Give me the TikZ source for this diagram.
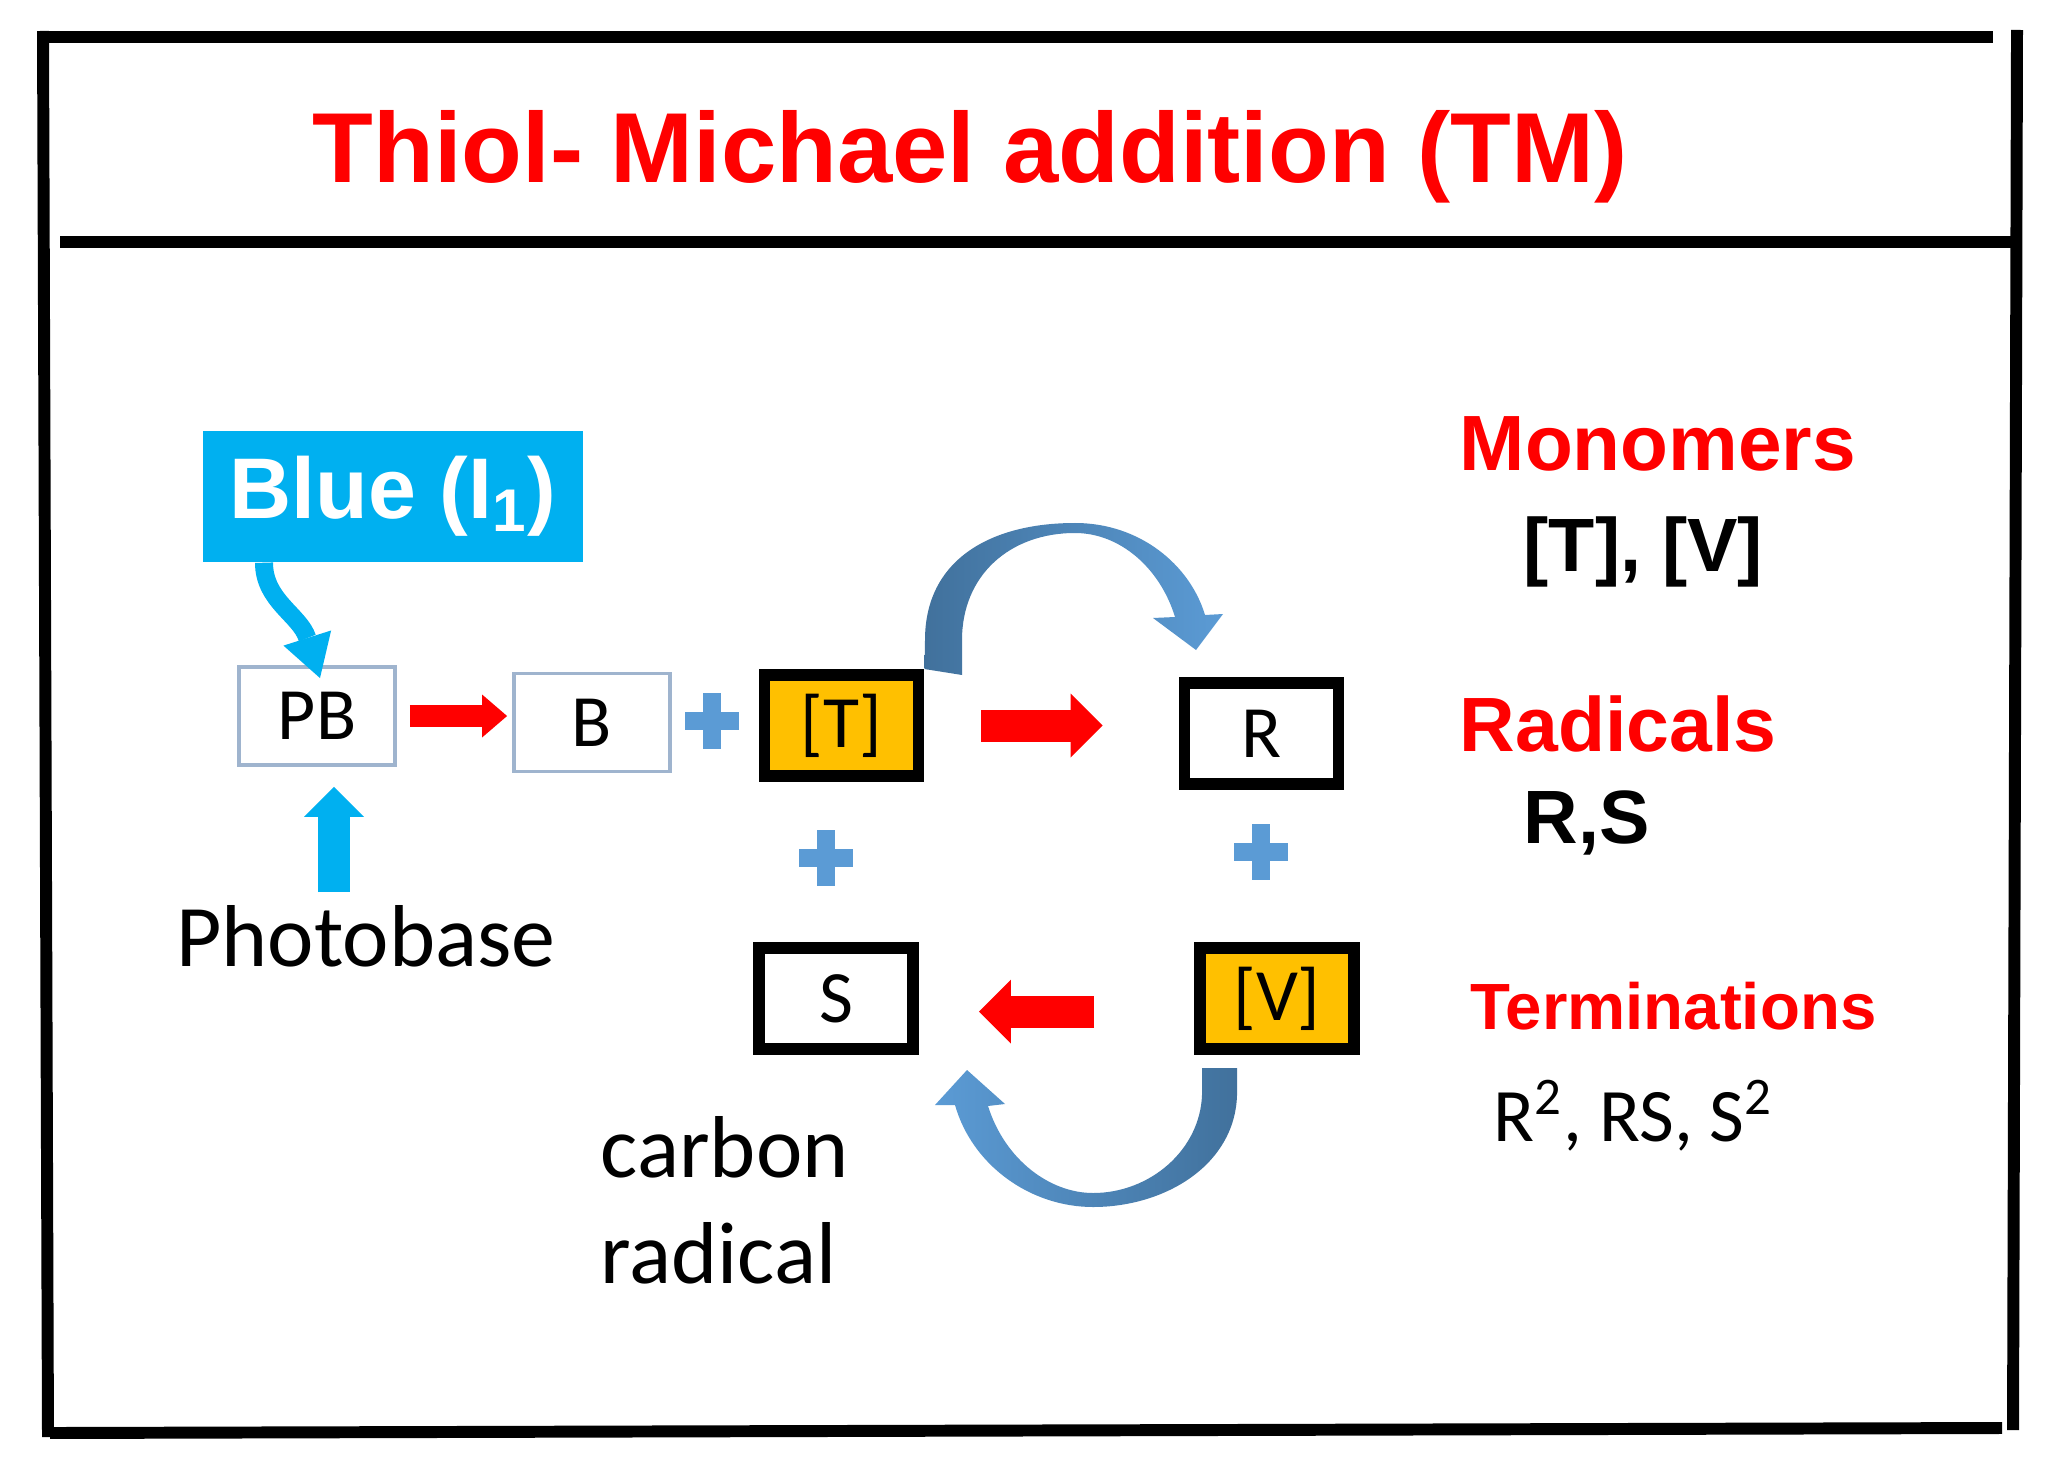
\documentclass[tikz,border=0pt]{standalone}
\usepackage{fontspec}
\setmainfont{Carlito}
\newfontfamily\arialfont{Liberation Sans}
\usetikzlibrary{arrows.meta}

\definecolor{titlered}{HTML}{FF0000}
\definecolor{infoblue}{HTML}{00B0F0}
\definecolor{monoyellow}{HTML}{FFC000}
\definecolor{plusblue}{HTML}{5B9BD5}
\definecolor{arcdark}{HTML}{41719C}
\definecolor{arclight}{HTML}{5B9BD5}
\definecolor{pbline}{HTML}{9FB4CE}

\tikzset{
  frame/.style={line width=3.4pt},
  thinbox/.style={draw=pbline, line width=1.1pt, minimum width=15.6mm, minimum height=9.8mm, inner sep=0pt, font=\fontsize{21}{25}\selectfont},
  thickbox/.style={draw=black, line width=3.4pt, minimum width=15.4mm, minimum height=10.1mm, inner sep=0pt, font=\fontsize{21}{25}\selectfont},
  monobox/.style={thickbox, fill=monoyellow},
  redarrow/.style={draw=titlered, line width=3.2mm, -{Triangle[width=6.4mm, length=3.2mm, line width=0pt]}},
  smallred/.style={redarrow, line width=2.2mm, -{Triangle[width=4.3mm, length=2.5mm, line width=0pt]}},
  bluearrow/.style={draw=infoblue, line width=3.2mm, -{Triangle[width=6mm, length=3mm, line width=0pt]}},
  heading/.style={inner sep=0pt, anchor=base west, text=titlered, font=\arialfont\bfseries\fontsize{#1}{30}\selectfont},
  species/.style={inner sep=0pt, anchor=base west, font=\arialfont\bfseries\fontsize{21.5}{26}\selectfont},
  labtext/.style={inner sep=0pt, font=\fontsize{25}{30}\selectfont}
}

\begin{document}
\begin{tikzpicture}[x=0.1mm, y=-0.1mm]
\fill[white] (0,0) rectangle (2063,1483);
\useasboundingbox (0,0) rectangle (2063,1483);
% frame and header rule
\draw[frame] (43,37) -- (1993,37);
\draw[frame] (43,31) -- (48,1437);
\draw[frame] (2017,30) -- (2013,1430);
\draw[frame] (60,242) -- (2013,242);
\draw[frame] (50,1433) -- (2002,1428);
\node[inner sep=0pt, anchor=base, text=titlered, font=\arialfont\bfseries\fontsize{28.3}{34}\selectfont] (title) at (970,183) {Thiol- Michael addition (TM)};

% light source and photobase
\node[fill=infoblue, minimum width=38mm, minimum height=13.1mm, text=white, font=\arialfont\bfseries\fontsize{24.5}{29}\selectfont] (blue) at (393,496.5) {Blue (I\textsubscript{1})};
\node[thinbox] (PB) at (317,716) {PB};
\node[thinbox] (B) at (592,722.5) {B};
\node[labtext, anchor=base] (photo) at (366,966) {Photobase};
\coordinate (upfoot) at (334,892);
\draw[draw=infoblue, line width=1.8mm, -{Triangle[width=5mm, length=4.2mm, line width=0pt]}] ([xshift=-12.9mm]blue.south) .. controls +(0,38) and +(-20,-63) .. ([xshift=0.3mm, yshift=-1.3mm]PB.north);
\draw[bluearrow, shorten >=2mm] (upfoot) -- (upfoot |- PB.south);
\draw[smallred, shorten <=1.3mm, shorten >=0.5mm] (PB.east) -- (PB.east -| B.west);

% cycle: monomers and radicals
\node[monobox] (T) at (841.5,725.5) {[T]};
\node[thickbox] (R) at (1261.5,733.5) {R};
\node[thickbox] (S) at (836,998.5) {S};
\node[monobox] (V) at (1277,998.5) {[V]};
\draw[redarrow, shorten <=5.7mm, shorten >=7.6mm] (T.east) -- (T.east -| R.west);
\draw[redarrow, shorten <=10mm, shorten >=6mm] ([yshift=-1.3mm]V.west) -- ([yshift=-1.3mm]V.west -| S.east);
\foreach \px/\py in {712/721, 826/858, 1261/852} {
  \fill[plusblue] (\px-27,\py-9) rectangle (\px+27,\py+9);
  \fill[plusblue] (\px-9,\py-28) rectangle (\px+9,\py+28);
}
% curved arrows
\shade[left color=arcdark, right color=arclight] (T.north east) -- (925,640) .. controls (925,560) and (990,523) .. (1075,523)
  .. controls (1140,523) and (1190,565) .. (1205,615) -- (1223,614) -- (1196,650) -- (1153,618) -- (1175,617)
  .. controls (1160,568) and (1120,533) .. (1075,533) .. controls (1010,533) and (962,575) .. (962,640) -- (962,675) -- cycle;
\shade[left color=arclight, right color=arcdark] (1202,1068) -- (1237,1068) -- (1237,1095) .. controls (1235,1165) and (1165,1207) .. (1093,1207)
  .. controls (1030,1207) and (972,1165) .. (955,1105) -- (935,1105) -- (967,1070) -- (1005,1104) -- (988,1106)
  .. controls (1005,1160) and (1050,1193) .. (1093,1193) .. controls (1150,1193) and (1200,1150) .. (1202,1095) -- cycle;
\node[labtext, align=left, anchor=base west] (carb) at (600,1283) {carbon\\radical};

% legend
\node[heading=22.3] (mono) at (1459,470) {Monomers};
\node[species] (monolist) at (1523,571) {[T], [V]};
\node[heading=21.9] (radi) at (1459,751) {Radicals};
\node[species] (radlist) at (1523,843) {R,S};
\node[heading=18.6] (term) at (1470,1029) {Terminations};
\node[inner sep=0pt, anchor=base west, font=\fontsize{21.5}{26}\selectfont] (termlist) at (1493,1141) {R\textsuperscript{2}, RS, S\textsuperscript{2}};
\end{tikzpicture}
\end{document}
